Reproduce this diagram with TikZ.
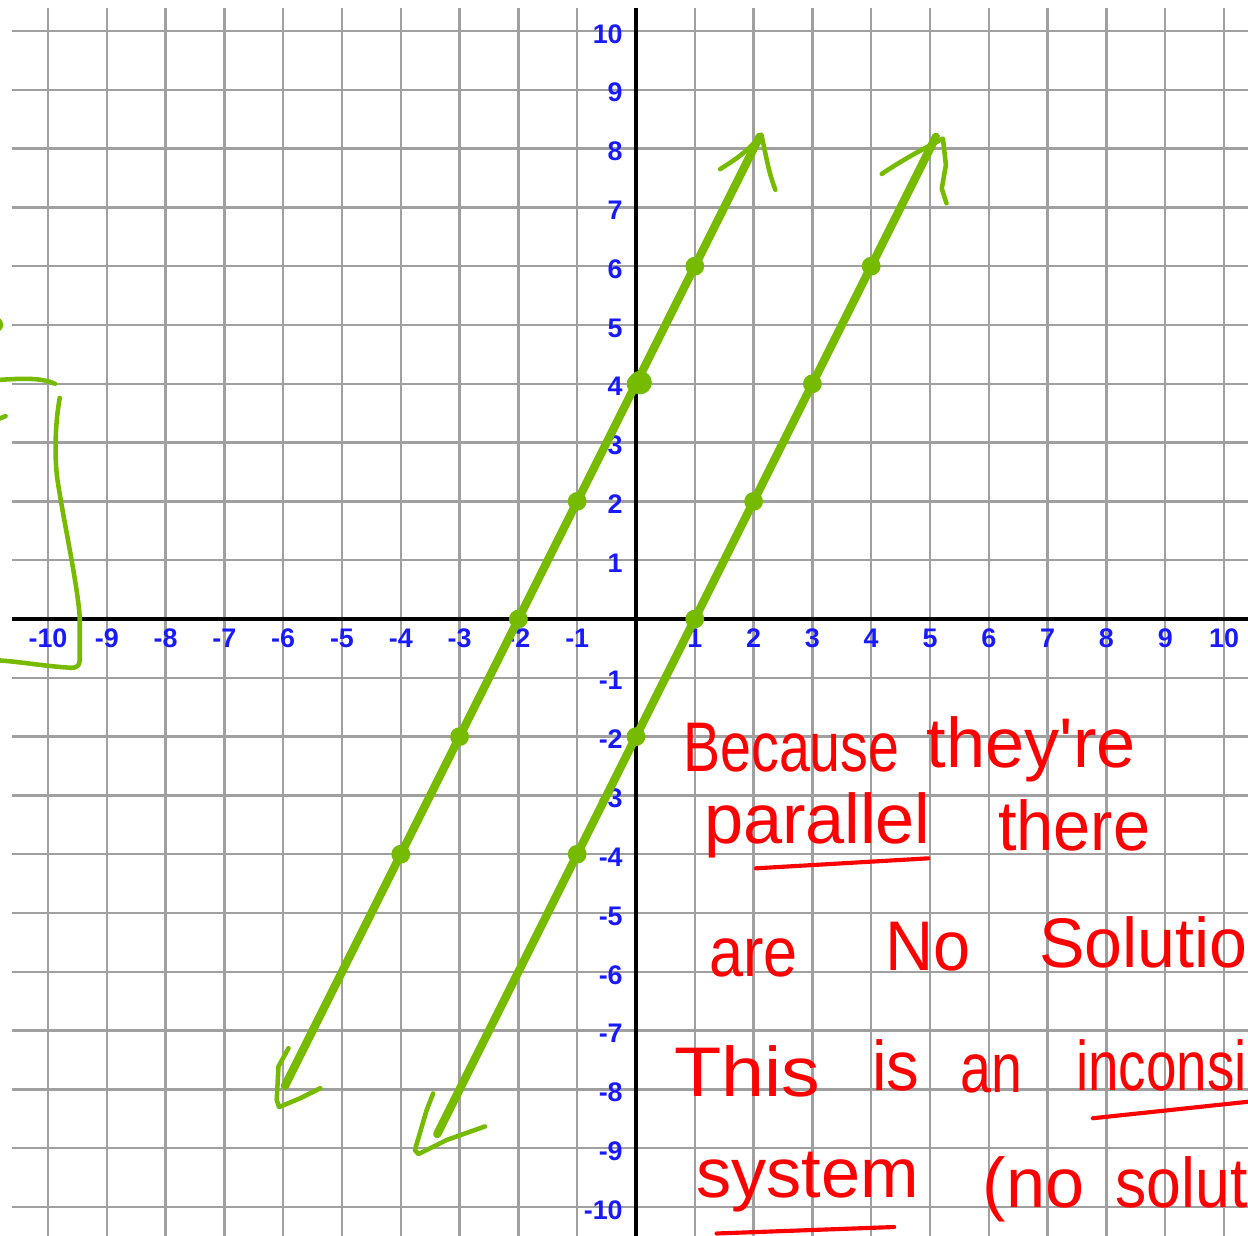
\documentclass[tikz,border=0pt]{standalone}
\usepackage{fontspec}
\setmainfont{Liberation Sans}
\newfontfamily\handfont{Liberation Sans}
\usepackage{xcolor}
\definecolor{plotgreen}{RGB}{119,187,0}
\definecolor{gridgray}{RGB}{160,160,160}
\definecolor{labelblue}{RGB}{25,25,255}
\definecolor{inkred}{RGB}{255,0,0}

\begin{document}
\begin{tikzpicture}[
    gridline/.style={gridgray, line width=1.1pt},
    axisline/.style={black, line width=2pt},
    ticklabel/.style={text=labelblue, font=\bfseries\fontsize{13}{13}\selectfont, inner sep=0pt},
    graphline/.style={plotgreen, line width=4pt, line cap=round},
    handstroke/.style={plotgreen, line width=2.2pt, line cap=round, line join=round},
    dotfill/.style={fill=plotgreen},
    hand/.style={text=inkred, font=\handfont\fontsize{34}{34}\selectfont, inner sep=0pt, anchor=base west},
    underln/.style={inkred, line width=2pt, line cap=round}
  ]
  \useasboundingbox[fill=white] (-10.816,-10.476) rectangle (10.408,10.527);
  \clip (-10.816,-10.476) rectangle (10.408,10.527);

  % grid and axes
  \foreach \y in {-10,...,10} \draw[gridline] (-10.61,\y) -- (10.6,\y);
  \foreach \x in {-10,...,10} \draw[gridline] (\x,10.39) -- (\x,-10.6);
  \draw[axisline] (-10.61,0) -- (10.6,0);
  \draw[axisline] (0,10.39) -- (0,-10.6);

  % tick labels
  \foreach \n in {-10,...,10} {
    \ifnum\n=0 \else
      \node[ticklabel] (xl\n) at (\n,-0.33) {\n};
      \node[ticklabel, anchor=east] (yl\n) at (-0.22,{\n-0.05}) {\n};
    \fi
  }

  % the two lines
  \coordinate (l1top) at (2.1,8.2);
  \coordinate (l1bot) at (-5.97,-7.94);
  \coordinate (l2top) at (5.1,8.2);
  \coordinate (l2bot) at (-3.38,-8.76);
  \draw[graphline] (l1bot) -- (l1top);
  \draw[graphline] (l2bot) -- (l2top);

  \foreach \x in {-4,...,1} \fill[dotfill] (\x,{2*\x+4}) circle (0.16);
  \foreach \x in {-1,...,4} \fill[dotfill] (\x,{2*\x-2}) circle (0.16);
  \fill[dotfill] (0.07,4.02) circle (0.2);

  % hand drawn arrow heads
  \draw[handstroke] (1.43,7.65) .. controls (1.75,7.85) and (1.95,8.0) .. (2.13,8.24) .. controls (2.2,7.95) and (2.25,7.6) .. (2.37,7.30);
  \draw[handstroke] (4.18,7.57) .. controls (4.6,7.85) and (4.9,8.0) .. (5.22,8.17) -- (5.27,7.72) -- (5.2,7.32) -- (5.28,7.07);
  \draw[handstroke] (-5.91,-7.30) -- (-6.08,-7.61) -- (-6.11,-8.18) -- (-6.07,-8.30) -- (-5.71,-8.15) -- (-5.37,-7.98);
  \draw[handstroke] (-3.45,-8.07) -- (-3.56,-8.35) -- (-3.76,-9.03) -- (-3.70,-9.10) -- (-3.22,-8.86) -- (-2.57,-8.63);

  % bracket at the left edge
  \draw[handstroke] (-10.9,4.06) .. controls (-10.4,4.1) and (-10.1,4.1) .. (-9.88,4.0);
  \draw[handstroke] (-9.80,3.76) .. controls (-9.9,3.2) and (-9.88,2.6) .. (-9.83,2.31) .. controls (-9.72,1.6) and (-9.5,0.6) .. (-9.46,0.03) -- (-9.46,-0.70) .. controls (-9.46,-0.8) and (-9.52,-0.83) .. (-9.6,-0.83) .. controls (-10.1,-0.8) and (-10.5,-0.72) .. (-10.9,-0.7);
  \draw[handstroke] (-10.9,5.12) .. controls (-10.76,5.05) and (-10.76,4.95) .. (-10.9,4.9);
  \draw[handstroke] (-10.9,3.38) -- (-10.72,3.45);

  % red note
  \node[hand] (because) at (0.80,-2.60) {\scalebox{0.79}[1]{Because}};
  \node[hand] (theyre) at (4.94,-2.52) {they're};
  \node[hand] (parallel) at (1.15,-3.81) {parallel};
  \node[hand] (there) at (6.15,-3.93) {\scalebox{0.95}[1]{there}};
  \node[hand] (are) at (1.24,-6.08) {\scalebox{0.87}[1]{are}};
  \node[hand] (no) at (4.24,-5.97) {\scalebox{0.95}[1]{No}};
  \node[hand] (solutio) at (6.85,-5.92) {\scalebox{0.97}[1]{Solutio}};
  \node[hand] (this) at (0.64,-8.12) {\scalebox{1.1}[1]{This}};
  \node[hand] (is) at (4.01,-8.01) {\scalebox{0.93}[1]{is}};
  \node[hand] (an) at (5.51,-8.05) {\scalebox{0.79}[1]{an}};
  \node[hand] (inconsi) at (7.48,-8.01) {\scalebox{0.78}[1]{inconsi}};
  \node[hand] (system) at (1.02,-9.83) {system};
  \node[hand] (nosol) at (5.89,-10.0) {(no};
  \node[hand] (solut) at (8.15,-10.0) {\scalebox{0.89}[1]{solut}};
  \draw[underln] (2.04,-4.24) -- (4.97,-4.07);
  \draw[underln] (7.77,-8.49) -- (10.5,-8.2);
  \draw[underln] (1.37,-10.45) -- (4.39,-10.34);
\end{tikzpicture}
\end{document}
